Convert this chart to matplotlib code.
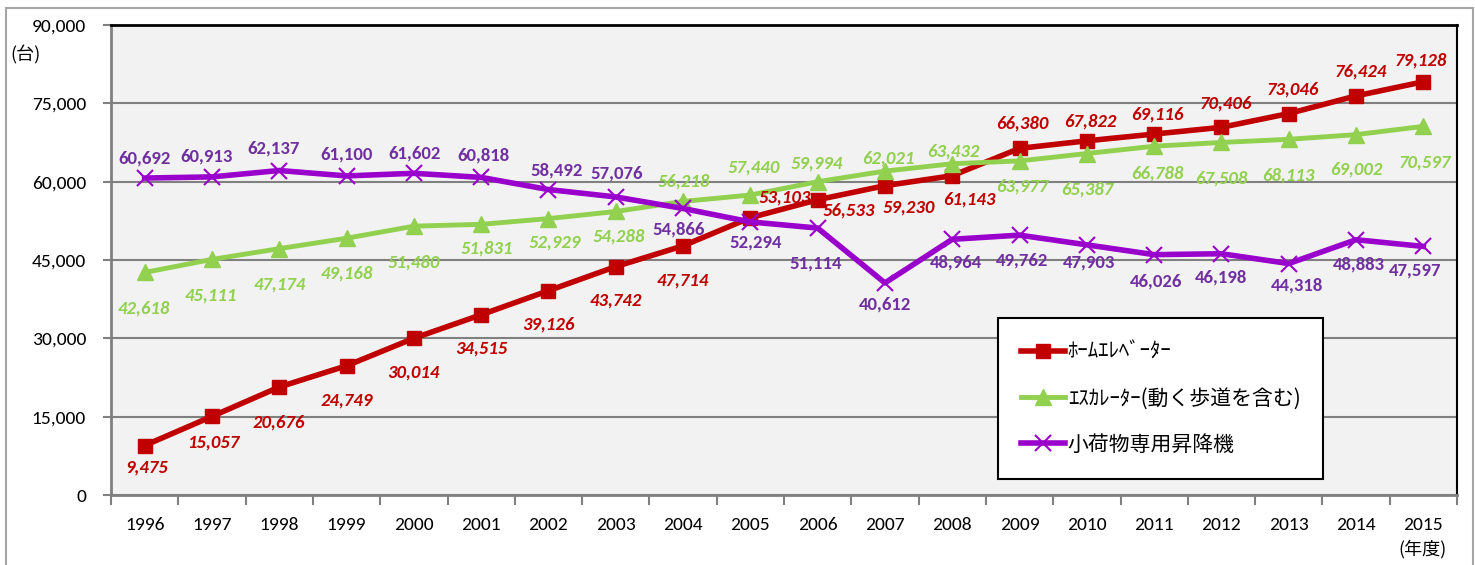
import numpy as np
import matplotlib
matplotlib.use("Agg")
import matplotlib.pyplot as plt
from matplotlib import font_manager
from matplotlib.ticker import FuncFormatter, FixedLocator
from matplotlib.patches import Rectangle

# narrow latin font (calibri look-alike) if there is one, CJK for the japanese bits
names = {f.name for f in font_manager.fontManager.ttflist}
num_font = 'DejaVu Sans'
for cand in ['Carlito', 'Liberation Sans Narrow', 'Roboto Condensed', 'Archivo Narrow', 'PT Sans Narrow']:
    if cand in names:
        num_font = cand
        break
jp = ['Noto Sans CJK JP', 'DejaVu Sans']
plt.rcParams['font.family'] = [num_font, 'Noto Sans CJK JP', 'DejaVu Sans']

years = [str(y) for y in range(1996, 2016)]
home_elev = [9475, 15057, 20676, 24749, 30014, 34515, 39126, 43742, 47714, 53103,
             56533, 59230, 61143, 66380, 67822, 69116, 70406, 73046, 76424, 79128]
escalator = [42618, 45111, 47174, 49168, 51480, 51831, 52929, 54288, 56218, 57440,
             59994, 62021, 63432, 63977, 65387, 66788, 67508, 68113, 69002, 70597]
dumbwaiter = [60692, 60913, 62137, 61100, 61602, 60818, 58492, 57076, 54866, 52294,
              51114, 40612, 48964, 49762, 47903, 46026, 46198, 44318, 48883, 47597]
series_names = ['ﾎｰﾑｴﾚﾍﾞｰﾀｰ', 'ｴｽｶﾚｰﾀｰ(動く歩道を含む)', '小荷物専用昇降機']

# label offsets in pixels (dx right, dy down) - hand placed like the excel chart
red_off = [(2, 22), (1, 26), (0, 35), (0, 35), (0, 34), (0, 34), (0, 34), (0, 34), (0, 35), (34, -20),
           (31, 11), (24, 22), (17, 24), (3, -25), (3, -19), (3, -20), (4, -24), (4, -24), (5, -24), (-3, -21)]
green_off = [(-1, 36), (-1, 36), (0, 36), (0, 35), (0, 36), (6, 24), (6, 24), (3, 25), (1, -20), (3, -28),
             (-1, -18), (3, -13), (1, -12), (3, 26), (0, 36), (3, 27), (0, 36), (0, 36), (0, 35), (1, 36)]
purple_off = [(0, -20), (-5, -20), (-6, -22), (0, -21), (1, -20), (2, -22), (8, -19), (1, -23), (-4, 21), (5, 21),
              (-2, 35), (0, 22), (4, 23), (3, 25), (2, 18), (2, 27), (0, 24), (8, 22), (3, 25), (-8, 24)]

fig = plt.figure(figsize=(14.75, 5.65), dpi=100)
ax = fig.add_axes([111 / 1475, 70 / 565, 1346 / 1475, 470 / 565])
ax.set_facecolor('#f2f2f2')

# outer chart border
fig.patches.append(Rectangle((6 / 1475, -0.05), 1467 / 1475, 1.05 - 8 / 565, transform=fig.transFigure,
                             fill=False, edgecolor='#a6a6a6', lw=1.5))

x = np.arange(len(years))
l1, = ax.plot(x, home_elev, color='#c00000', lw=4, marker='s', ms=10, zorder=3)
l2, = ax.plot(x, escalator, color='#92d050', lw=3.5, marker='^', ms=11, zorder=4)
l3, = ax.plot(x, dumbwaiter, color='#9900cc', lw=4, marker='x', ms=11, mew=1.5, zorder=5)

for vals, offs, col, style in [(home_elev, red_off, '#c00000', 'italic'),
                               (escalator, green_off, '#92d050', 'italic'),
                               (dumbwaiter, purple_off, '#7030a0', 'normal')]:
    for i, v in enumerate(vals):
        dx, dy = offs[i]
        ax.annotate(f'{v:,}', (i, v), xytext=(dx, -dy), textcoords='offset pixels',
                    ha='center', va='center', fontsize=13.5, fontweight='bold',
                    fontstyle=style, color=col, zorder=6)

ax.set_xlim(-0.5, 19.5)
ax.set_ylim(0, 90000)
ax.set_yticks(np.arange(0, 90001, 15000))
ax.yaxis.set_major_formatter(FuncFormatter(lambda v, p: f'{int(v):,}'))
ax.set_xticks(x)
ax.set_xticklabels(years)
ax.xaxis.set_minor_locator(FixedLocator(np.arange(-0.5, 20, 1)))

ax.yaxis.grid(True, color='#808080', lw=1.5)
ax.set_axisbelow(True)
ax.tick_params(axis='y', length=6, width=1.5, color='#808080', labelsize=14, pad=12)
ax.tick_params(axis='x', which='major', length=0, labelsize=14, pad=16)
ax.tick_params(axis='x', which='minor', length=7, width=1.5, color='#808080')

for s in ['left', 'bottom']:
    ax.spines[s].set_color('#808080')
    ax.spines[s].set_linewidth(2)
ax.spines['top'].set_color('black')
ax.spines['top'].set_linewidth(2)
ax.spines['right'].set_color('black')
ax.spines['right'].set_linewidth(1.5)

leg = ax.legend(handles=[l1, l2, l3], labels=series_names, loc='upper left',
                bbox_to_anchor=((998 - 111) / 1346, (495 - 318) / 470), borderaxespad=0,
                fontsize=15, handlelength=2.1, handletextpad=0.15, borderpad=1.1,
                labelspacing=1.17, numpoints=1, fancybox=False, framealpha=1,
                edgecolor='black', facecolor='white')
leg.get_frame().set_linewidth(1.5)
for t in leg.get_texts():
    t.set_family(jp)

fig.text(26 / 1475, 1 - 55 / 565, '(台)', ha='center', va='center', fontsize=13, family=jp)
fig.text(1423 / 1475, 1 - 549 / 565, '(年度)', ha='center', va='center', fontsize=13, family=jp)

fig.savefig('out.png', dpi=100)
